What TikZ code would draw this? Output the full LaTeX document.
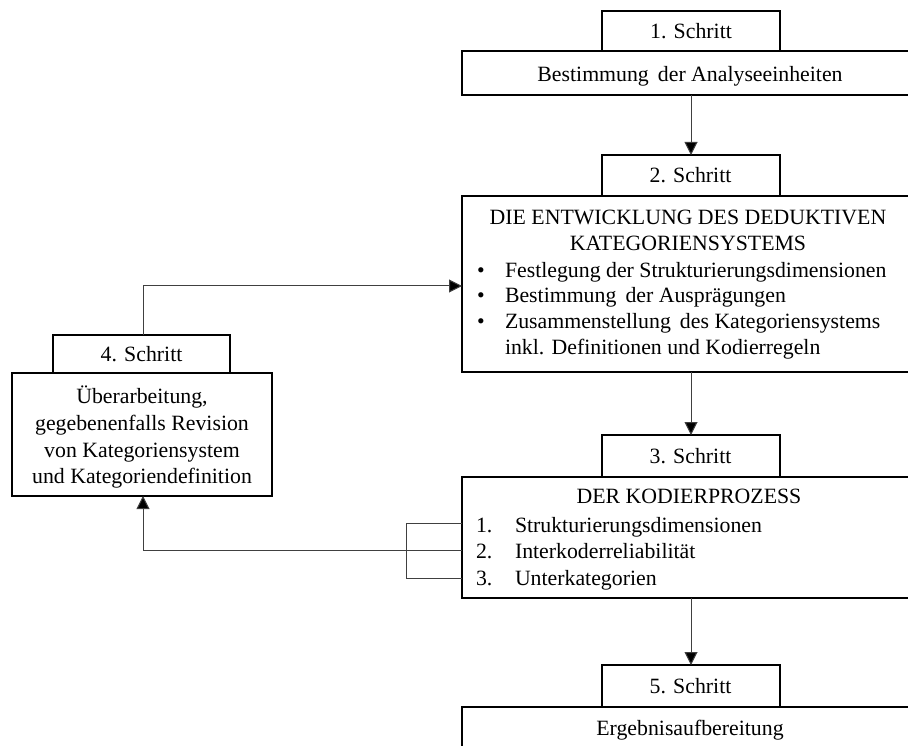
\documentclass[tikz,border=0pt]{standalone}
\usepackage{fontspec}
\setmainfont{Liberation Serif}
\usetikzlibrary{arrows.meta}

\begin{document}
\begin{tikzpicture}[x=1pt,y=-1pt,
  every node/.style={font=\fontsize{21.8}{25}\selectfont, inner sep=0pt, outer sep=0pt},
  stepbox/.style={draw=black, line width=2pt, fill=white, minimum width=178pt, minimum height=41pt},
  bigbox/.style={draw=black, line width=2pt, fill=white, minimum width=456pt},
  txt/.style={anchor=base},
  ltxt/.style={anchor=base west},
  conn/.style={draw=black!75, line width=1pt},
  flow/.style={conn, -{Triangle[length=13pt,width=13pt,fill=black]}}
]
\useasboundingbox (0,0) rectangle (908,746);

% ---- step 1
\node[bigbox, minimum height=44pt] (b1) at (690,73) {};
\node[txt] (t1) at (690,82) {Bestimmung\, der Analyseeinheiten};
\node[stepbox, minimum height=40pt] (s1) at (691,31) {1. Schritt};

% ---- step 2
\node[bigbox, minimum height=176pt] (b2) at (690,284) {};
\node[stepbox] (s2) at (690.5,175.5) {2. Schritt};
\node[txt] (t2a) at (688,225) {DIE ENTWICKLUNG DES DEDUKTIVEN};
\node[txt] (t2b) at (688,251) {KATEGORIENSYSTEMS};
\node[txt] (u1) at (481,277) {•};
\node[txt] (u2) at (481,302) {•};
\node[txt] (u3) at (481,328) {•};
\node[ltxt] (t2c) at (505,277) {Festlegung der Strukturierungsdimensionen};
\node[ltxt] (t2d) at (505,302) {Bestimmung\, der Ausprägungen};
\node[ltxt] (t2e) at (505,328) {Zusammenstellung\, des Kategoriensystems};
\node[ltxt] (t2f) at (505,354) {inkl. Definitionen und Kodierregeln};

% ---- step 3
\node[bigbox, minimum height=121pt] (b3) at (690,537.5) {};
\node[stepbox, minimum height=42pt] (s3) at (690.5,456) {3. Schritt};
\node[txt] (t3a) at (689,503) {DER KODIERPROZESS};
\node[ltxt] (n1) at (476,532) {1.};
\node[ltxt] (n2) at (476,558) {2.};
\node[ltxt] (n3) at (476,585) {3.};
\node[ltxt] (t3b) at (515,532) {Strukturierungsdimensionen};
\node[ltxt] (t3c) at (515,558) {Interkoderreliabilität};
\node[ltxt] (t3d) at (515,585) {Unterkategorien};

% ---- step 5
\node[bigbox, minimum height=83pt] (b5) at (690,748.5) {};
\node[stepbox, minimum height=42pt] (s5) at (690.5,686) {5. Schritt};
\node[txt] (t5) at (690,735) {Ergebnisaufbereitung};

% ---- step 4
\node[draw=black, line width=2pt, fill=white, minimum width=260pt, minimum height=123pt] (b4) at (142,434.5) {};
\node[stepbox, minimum width=177pt, minimum height=38pt] (s4) at (141.5,354) {4. Schritt};
\node[txt] (t4a) at (142,403) {Überarbeitung,};
\node[txt] (t4b) at (142,430) {gegebenenfalls Revision};
\node[txt] (t4c) at (142,457) {von Kategoriensystem};
\node[txt] (t4d) at (142,483) {und Kategoriendefinition};

% ---- connectors
\coordinate (c1) at (691,0);
\draw[flow] (b1.south -| c1) -- (s2.north -| c1);
\draw[flow] (b2.south -| c1) -- (s3.north -| c1);
\draw[flow] (b3.south -| c1) -- (s5.north -| c1);

\coordinate (up) at (143,286);
\draw[flow] (s4.north -| up) |- (b2.west |- up);

\coordinate (back) at (143,550);
\draw[flow] (b3.west |- back) -| (b4.south -| back);

% bracket joining the three coding steps
\coordinate (k1) at (462,523);
\coordinate (k2) at (406,523);
\coordinate (k3) at (406,578);
\coordinate (k4) at (462,578);
\draw[conn] (k1) -- (k2) -- (k3) -- (k4);
\end{tikzpicture}
\end{document}
